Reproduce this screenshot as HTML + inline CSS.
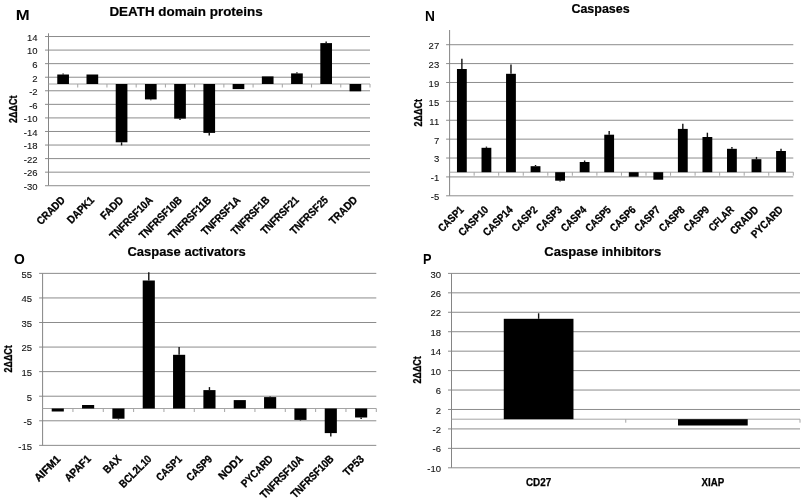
<!DOCTYPE html>
<html><head><meta charset="utf-8"><style>
html,body{margin:0;padding:0;background:#fff;}
svg{display:block;font-family:"Liberation Sans", sans-serif;filter:blur(0.35px);}
</style></head><body>
<svg width="805" height="499" viewBox="0 0 805 499">
<rect width="805" height="499" fill="#fff"/>
<line x1="45.00" y1="36.53" x2="370.00" y2="36.53" stroke="#8c8c8c" stroke-width="1"/>
<line x1="45.00" y1="50.09" x2="370.00" y2="50.09" stroke="#8c8c8c" stroke-width="1"/>
<line x1="45.00" y1="63.65" x2="370.00" y2="63.65" stroke="#8c8c8c" stroke-width="1"/>
<line x1="45.00" y1="77.22" x2="370.00" y2="77.22" stroke="#8c8c8c" stroke-width="1"/>
<line x1="45.00" y1="90.78" x2="370.00" y2="90.78" stroke="#8c8c8c" stroke-width="1"/>
<line x1="45.00" y1="104.35" x2="370.00" y2="104.35" stroke="#8c8c8c" stroke-width="1"/>
<line x1="45.00" y1="117.91" x2="370.00" y2="117.91" stroke="#8c8c8c" stroke-width="1"/>
<line x1="45.00" y1="131.47" x2="370.00" y2="131.47" stroke="#8c8c8c" stroke-width="1"/>
<line x1="45.00" y1="145.04" x2="370.00" y2="145.04" stroke="#8c8c8c" stroke-width="1"/>
<line x1="45.00" y1="158.60" x2="370.00" y2="158.60" stroke="#8c8c8c" stroke-width="1"/>
<line x1="45.00" y1="172.17" x2="370.00" y2="172.17" stroke="#8c8c8c" stroke-width="1"/>
<line x1="45.00" y1="185.73" x2="370.00" y2="185.73" stroke="#8c8c8c" stroke-width="1"/>
<line x1="48.50" y1="33.30" x2="48.50" y2="185.50" stroke="#858585" stroke-width="1"/>
<line x1="48.50" y1="84.00" x2="370.00" y2="84.00" stroke="#a4a4a4" stroke-width="1"/>
<line x1="77.73" y1="84.00" x2="77.73" y2="87.50" stroke="#a4a4a4" stroke-width="1"/>
<line x1="106.95" y1="84.00" x2="106.95" y2="87.50" stroke="#a4a4a4" stroke-width="1"/>
<line x1="136.18" y1="84.00" x2="136.18" y2="87.50" stroke="#a4a4a4" stroke-width="1"/>
<line x1="165.41" y1="84.00" x2="165.41" y2="87.50" stroke="#a4a4a4" stroke-width="1"/>
<line x1="194.64" y1="84.00" x2="194.64" y2="87.50" stroke="#a4a4a4" stroke-width="1"/>
<line x1="223.86" y1="84.00" x2="223.86" y2="87.50" stroke="#a4a4a4" stroke-width="1"/>
<line x1="253.09" y1="84.00" x2="253.09" y2="87.50" stroke="#a4a4a4" stroke-width="1"/>
<line x1="282.32" y1="84.00" x2="282.32" y2="87.50" stroke="#a4a4a4" stroke-width="1"/>
<line x1="311.55" y1="84.00" x2="311.55" y2="87.50" stroke="#a4a4a4" stroke-width="1"/>
<line x1="340.77" y1="84.00" x2="340.77" y2="87.50" stroke="#a4a4a4" stroke-width="1"/>
<line x1="370.00" y1="84.00" x2="370.00" y2="87.50" stroke="#a4a4a4" stroke-width="1"/>
<text x="37.60" y="40.83" font-size="9.5" text-anchor="end" fill="#111" stroke="#111" stroke-width="0.1">14</text>
<text x="37.60" y="54.39" font-size="9.5" text-anchor="end" fill="#111" stroke="#111" stroke-width="0.1">10</text>
<text x="37.60" y="67.95" font-size="9.5" text-anchor="end" fill="#111" stroke="#111" stroke-width="0.1">6</text>
<text x="37.60" y="81.52" font-size="9.5" text-anchor="end" fill="#111" stroke="#111" stroke-width="0.1">2</text>
<text x="37.60" y="95.08" font-size="9.5" text-anchor="end" fill="#111" stroke="#111" stroke-width="0.1">-2</text>
<text x="37.60" y="108.65" font-size="9.5" text-anchor="end" fill="#111" stroke="#111" stroke-width="0.1">-6</text>
<text x="37.60" y="122.21" font-size="9.5" text-anchor="end" fill="#111" stroke="#111" stroke-width="0.1">-10</text>
<text x="37.60" y="135.77" font-size="9.5" text-anchor="end" fill="#111" stroke="#111" stroke-width="0.1">-14</text>
<text x="37.60" y="149.34" font-size="9.5" text-anchor="end" fill="#111" stroke="#111" stroke-width="0.1">-18</text>
<text x="37.60" y="162.90" font-size="9.5" text-anchor="end" fill="#111" stroke="#111" stroke-width="0.1">-22</text>
<text x="37.60" y="176.47" font-size="9.5" text-anchor="end" fill="#111" stroke="#111" stroke-width="0.1">-26</text>
<text x="37.60" y="190.03" font-size="9.5" text-anchor="end" fill="#111" stroke="#111" stroke-width="0.1">-30</text>
<rect x="57.27" y="74.50" width="11.69" height="9.50" fill="#000"/>
<line x1="63.11" y1="74.50" x2="63.11" y2="73.40" stroke="#111" stroke-width="1.4"/>
<rect x="86.50" y="74.50" width="11.69" height="9.50" fill="#000"/>
<rect x="115.72" y="84.00" width="11.69" height="58.30" fill="#000"/>
<line x1="121.57" y1="142.30" x2="121.57" y2="145.40" stroke="#111" stroke-width="1.4"/>
<rect x="144.95" y="84.00" width="11.69" height="15.40" fill="#000"/>
<line x1="150.80" y1="99.40" x2="150.80" y2="100.20" stroke="#111" stroke-width="1.4"/>
<rect x="174.18" y="84.00" width="11.69" height="34.60" fill="#000"/>
<line x1="180.02" y1="118.60" x2="180.02" y2="119.90" stroke="#111" stroke-width="1.4"/>
<rect x="203.40" y="84.00" width="11.69" height="48.90" fill="#000"/>
<line x1="209.25" y1="132.90" x2="209.25" y2="135.60" stroke="#111" stroke-width="1.4"/>
<rect x="232.63" y="84.00" width="11.69" height="5.10" fill="#000"/>
<rect x="261.86" y="76.40" width="11.69" height="7.60" fill="#000"/>
<rect x="291.09" y="73.40" width="11.69" height="10.60" fill="#000"/>
<line x1="296.93" y1="73.40" x2="296.93" y2="72.20" stroke="#111" stroke-width="1.4"/>
<rect x="320.31" y="43.10" width="11.69" height="40.90" fill="#000"/>
<line x1="326.16" y1="43.10" x2="326.16" y2="41.40" stroke="#111" stroke-width="1.4"/>
<rect x="349.54" y="84.00" width="11.69" height="7.30" fill="#000"/>
<text transform="translate(65.71,200.80) rotate(-45)" font-size="11" font-weight="bold" text-anchor="end" textLength="34.90" lengthAdjust="spacingAndGlyphs" stroke="#000" stroke-width="0.3" fill="#000">CRADD</text>
<text transform="translate(94.94,200.80) rotate(-45)" font-size="11" font-weight="bold" text-anchor="end" textLength="33.30" lengthAdjust="spacingAndGlyphs" stroke="#000" stroke-width="0.3" fill="#000">DAPK1</text>
<text transform="translate(124.17,200.80) rotate(-45)" font-size="11" font-weight="bold" text-anchor="end" textLength="27.44" lengthAdjust="spacingAndGlyphs" stroke="#000" stroke-width="0.3" fill="#000">FADD</text>
<text transform="translate(153.40,200.80) rotate(-45)" font-size="11" font-weight="bold" text-anchor="end" textLength="55.79" lengthAdjust="spacingAndGlyphs" stroke="#000" stroke-width="0.3" fill="#000">TNFRSF10A</text>
<text transform="translate(182.62,200.80) rotate(-45)" font-size="11" font-weight="bold" text-anchor="end" textLength="55.26" lengthAdjust="spacingAndGlyphs" stroke="#000" stroke-width="0.3" fill="#000">TNFRSF10B</text>
<text transform="translate(211.85,200.80) rotate(-45)" font-size="11" font-weight="bold" text-anchor="end" textLength="55.26" lengthAdjust="spacingAndGlyphs" stroke="#000" stroke-width="0.3" fill="#000">TNFRSF11B</text>
<text transform="translate(241.08,200.80) rotate(-45)" font-size="11" font-weight="bold" text-anchor="end" textLength="49.81" lengthAdjust="spacingAndGlyphs" stroke="#000" stroke-width="0.3" fill="#000">TNFRSF1A</text>
<text transform="translate(270.30,200.80) rotate(-45)" font-size="11" font-weight="bold" text-anchor="end" textLength="49.28" lengthAdjust="spacingAndGlyphs" stroke="#000" stroke-width="0.3" fill="#000">TNFRSF1B</text>
<text transform="translate(299.53,200.80) rotate(-45)" font-size="11" font-weight="bold" text-anchor="end" textLength="48.64" lengthAdjust="spacingAndGlyphs" stroke="#000" stroke-width="0.3" fill="#000">TNFRSF21</text>
<text transform="translate(328.76,200.80) rotate(-45)" font-size="11" font-weight="bold" text-anchor="end" textLength="48.64" lengthAdjust="spacingAndGlyphs" stroke="#000" stroke-width="0.3" fill="#000">TNFRSF25</text>
<text transform="translate(357.99,200.80) rotate(-45)" font-size="11" font-weight="bold" text-anchor="end" textLength="34.50" lengthAdjust="spacingAndGlyphs" stroke="#000" stroke-width="0.3" fill="#000">TRADD</text>
<text transform="translate(17.40,109.30) rotate(-90)" font-size="10" font-weight="bold" text-anchor="middle" textLength="27.4" lengthAdjust="spacingAndGlyphs" stroke="#000" stroke-width="0.3" fill="#000">2ΔΔCt</text>
<text x="109.40" y="15.60" font-size="12.8" font-weight="bold" textLength="153.30" lengthAdjust="spacingAndGlyphs" stroke="#000" stroke-width="0.2" fill="#000">DEATH domain proteins</text>
<text x="15.80" y="19.80" font-size="14.8" font-weight="bold" textLength="13.90" lengthAdjust="spacingAndGlyphs" fill="#000">M</text>
<line x1="446.10" y1="44.71" x2="793.30" y2="44.71" stroke="#8c8c8c" stroke-width="1"/>
<line x1="446.10" y1="63.59" x2="793.30" y2="63.59" stroke="#8c8c8c" stroke-width="1"/>
<line x1="446.10" y1="82.48" x2="793.30" y2="82.48" stroke="#8c8c8c" stroke-width="1"/>
<line x1="446.10" y1="101.37" x2="793.30" y2="101.37" stroke="#8c8c8c" stroke-width="1"/>
<line x1="446.10" y1="120.26" x2="793.30" y2="120.26" stroke="#8c8c8c" stroke-width="1"/>
<line x1="446.10" y1="139.15" x2="793.30" y2="139.15" stroke="#8c8c8c" stroke-width="1"/>
<line x1="446.10" y1="158.03" x2="793.30" y2="158.03" stroke="#8c8c8c" stroke-width="1"/>
<line x1="446.10" y1="176.92" x2="793.30" y2="176.92" stroke="#8c8c8c" stroke-width="1"/>
<line x1="446.10" y1="195.81" x2="793.30" y2="195.81" stroke="#8c8c8c" stroke-width="1"/>
<line x1="449.60" y1="30.00" x2="449.60" y2="195.70" stroke="#858585" stroke-width="1"/>
<line x1="449.60" y1="172.20" x2="793.30" y2="172.20" stroke="#a4a4a4" stroke-width="1"/>
<line x1="474.15" y1="172.20" x2="474.15" y2="175.70" stroke="#a4a4a4" stroke-width="1"/>
<line x1="498.70" y1="172.20" x2="498.70" y2="175.70" stroke="#a4a4a4" stroke-width="1"/>
<line x1="523.25" y1="172.20" x2="523.25" y2="175.70" stroke="#a4a4a4" stroke-width="1"/>
<line x1="547.80" y1="172.20" x2="547.80" y2="175.70" stroke="#a4a4a4" stroke-width="1"/>
<line x1="572.35" y1="172.20" x2="572.35" y2="175.70" stroke="#a4a4a4" stroke-width="1"/>
<line x1="596.90" y1="172.20" x2="596.90" y2="175.70" stroke="#a4a4a4" stroke-width="1"/>
<line x1="621.45" y1="172.20" x2="621.45" y2="175.70" stroke="#a4a4a4" stroke-width="1"/>
<line x1="646.00" y1="172.20" x2="646.00" y2="175.70" stroke="#a4a4a4" stroke-width="1"/>
<line x1="670.55" y1="172.20" x2="670.55" y2="175.70" stroke="#a4a4a4" stroke-width="1"/>
<line x1="695.10" y1="172.20" x2="695.10" y2="175.70" stroke="#a4a4a4" stroke-width="1"/>
<line x1="719.65" y1="172.20" x2="719.65" y2="175.70" stroke="#a4a4a4" stroke-width="1"/>
<line x1="744.20" y1="172.20" x2="744.20" y2="175.70" stroke="#a4a4a4" stroke-width="1"/>
<line x1="768.75" y1="172.20" x2="768.75" y2="175.70" stroke="#a4a4a4" stroke-width="1"/>
<line x1="793.30" y1="172.20" x2="793.30" y2="175.70" stroke="#a4a4a4" stroke-width="1"/>
<text x="439.20" y="49.11" font-size="9.5" text-anchor="end" fill="#111" stroke="#111" stroke-width="0.1">27</text>
<text x="439.20" y="67.99" font-size="9.5" text-anchor="end" fill="#111" stroke="#111" stroke-width="0.1">23</text>
<text x="439.20" y="86.88" font-size="9.5" text-anchor="end" fill="#111" stroke="#111" stroke-width="0.1">19</text>
<text x="439.20" y="105.77" font-size="9.5" text-anchor="end" fill="#111" stroke="#111" stroke-width="0.1">15</text>
<text x="439.20" y="124.66" font-size="9.5" text-anchor="end" fill="#111" stroke="#111" stroke-width="0.1">11</text>
<text x="439.20" y="143.55" font-size="9.5" text-anchor="end" fill="#111" stroke="#111" stroke-width="0.1">7</text>
<text x="439.20" y="162.43" font-size="9.5" text-anchor="end" fill="#111" stroke="#111" stroke-width="0.1">3</text>
<text x="439.20" y="181.32" font-size="9.5" text-anchor="end" fill="#111" stroke="#111" stroke-width="0.1">-1</text>
<text x="439.20" y="200.21" font-size="9.5" text-anchor="end" fill="#111" stroke="#111" stroke-width="0.1">-5</text>
<rect x="456.96" y="69.00" width="9.82" height="103.20" fill="#000"/>
<line x1="461.88" y1="69.00" x2="461.88" y2="58.70" stroke="#111" stroke-width="1.4"/>
<rect x="481.51" y="147.80" width="9.82" height="24.40" fill="#000"/>
<line x1="486.43" y1="147.80" x2="486.43" y2="146.60" stroke="#111" stroke-width="1.4"/>
<rect x="506.06" y="73.80" width="9.82" height="98.40" fill="#000"/>
<line x1="510.98" y1="73.80" x2="510.98" y2="64.60" stroke="#111" stroke-width="1.4"/>
<rect x="530.62" y="166.20" width="9.82" height="6.00" fill="#000"/>
<line x1="535.52" y1="166.20" x2="535.52" y2="165.00" stroke="#111" stroke-width="1.4"/>
<rect x="555.17" y="172.20" width="9.82" height="8.50" fill="#000"/>
<line x1="560.08" y1="180.70" x2="560.08" y2="181.50" stroke="#111" stroke-width="1.4"/>
<rect x="579.72" y="162.00" width="9.82" height="10.20" fill="#000"/>
<line x1="584.62" y1="162.00" x2="584.62" y2="160.50" stroke="#111" stroke-width="1.4"/>
<rect x="604.26" y="134.70" width="9.82" height="37.50" fill="#000"/>
<line x1="609.17" y1="134.70" x2="609.17" y2="130.90" stroke="#111" stroke-width="1.4"/>
<rect x="628.81" y="172.20" width="9.82" height="4.50" fill="#000"/>
<rect x="653.37" y="172.20" width="9.82" height="7.50" fill="#000"/>
<rect x="677.91" y="128.90" width="9.82" height="43.30" fill="#000"/>
<line x1="682.82" y1="128.90" x2="682.82" y2="123.80" stroke="#111" stroke-width="1.4"/>
<rect x="702.47" y="137.00" width="9.82" height="35.20" fill="#000"/>
<line x1="707.38" y1="137.00" x2="707.38" y2="132.70" stroke="#111" stroke-width="1.4"/>
<rect x="727.01" y="148.80" width="9.82" height="23.40" fill="#000"/>
<line x1="731.92" y1="148.80" x2="731.92" y2="147.00" stroke="#111" stroke-width="1.4"/>
<rect x="751.56" y="159.20" width="9.82" height="13.00" fill="#000"/>
<line x1="756.47" y1="159.20" x2="756.47" y2="156.90" stroke="#111" stroke-width="1.4"/>
<rect x="776.11" y="151.00" width="9.82" height="21.20" fill="#000"/>
<line x1="781.02" y1="151.00" x2="781.02" y2="148.80" stroke="#111" stroke-width="1.4"/>
<text transform="translate(464.48,210.50) rotate(-45)" font-size="11" font-weight="bold" text-anchor="end" textLength="31.23" lengthAdjust="spacingAndGlyphs" stroke="#000" stroke-width="0.3" fill="#000">CASP1</text>
<text transform="translate(489.03,210.50) rotate(-45)" font-size="11" font-weight="bold" text-anchor="end" textLength="37.22" lengthAdjust="spacingAndGlyphs" stroke="#000" stroke-width="0.3" fill="#000">CASP10</text>
<text transform="translate(513.58,210.50) rotate(-45)" font-size="11" font-weight="bold" text-anchor="end" textLength="37.22" lengthAdjust="spacingAndGlyphs" stroke="#000" stroke-width="0.3" fill="#000">CASP14</text>
<text transform="translate(538.12,210.50) rotate(-45)" font-size="11" font-weight="bold" text-anchor="end" textLength="31.23" lengthAdjust="spacingAndGlyphs" stroke="#000" stroke-width="0.3" fill="#000">CASP2</text>
<text transform="translate(562.68,210.50) rotate(-45)" font-size="11" font-weight="bold" text-anchor="end" textLength="31.23" lengthAdjust="spacingAndGlyphs" stroke="#000" stroke-width="0.3" fill="#000">CASP3</text>
<text transform="translate(587.23,210.50) rotate(-45)" font-size="11" font-weight="bold" text-anchor="end" textLength="31.23" lengthAdjust="spacingAndGlyphs" stroke="#000" stroke-width="0.3" fill="#000">CASP4</text>
<text transform="translate(611.77,210.50) rotate(-45)" font-size="11" font-weight="bold" text-anchor="end" textLength="31.23" lengthAdjust="spacingAndGlyphs" stroke="#000" stroke-width="0.3" fill="#000">CASP5</text>
<text transform="translate(636.32,210.50) rotate(-45)" font-size="11" font-weight="bold" text-anchor="end" textLength="31.23" lengthAdjust="spacingAndGlyphs" stroke="#000" stroke-width="0.3" fill="#000">CASP6</text>
<text transform="translate(660.88,210.50) rotate(-45)" font-size="11" font-weight="bold" text-anchor="end" textLength="31.23" lengthAdjust="spacingAndGlyphs" stroke="#000" stroke-width="0.3" fill="#000">CASP7</text>
<text transform="translate(685.42,210.50) rotate(-45)" font-size="11" font-weight="bold" text-anchor="end" textLength="31.23" lengthAdjust="spacingAndGlyphs" stroke="#000" stroke-width="0.3" fill="#000">CASP8</text>
<text transform="translate(709.98,210.50) rotate(-45)" font-size="11" font-weight="bold" text-anchor="end" textLength="31.23" lengthAdjust="spacingAndGlyphs" stroke="#000" stroke-width="0.3" fill="#000">CASP9</text>
<text transform="translate(734.52,210.50) rotate(-45)" font-size="11" font-weight="bold" text-anchor="end" textLength="30.44" lengthAdjust="spacingAndGlyphs" stroke="#000" stroke-width="0.3" fill="#000">CFLAR</text>
<text transform="translate(759.07,210.50) rotate(-45)" font-size="11" font-weight="bold" text-anchor="end" textLength="34.90" lengthAdjust="spacingAndGlyphs" stroke="#000" stroke-width="0.3" fill="#000">CRADD</text>
<text transform="translate(783.62,210.50) rotate(-45)" font-size="11" font-weight="bold" text-anchor="end" textLength="39.88" lengthAdjust="spacingAndGlyphs" stroke="#000" stroke-width="0.3" fill="#000">PYCARD</text>
<text transform="translate(421.80,112.75) rotate(-90)" font-size="10" font-weight="bold" text-anchor="middle" textLength="27.4" lengthAdjust="spacingAndGlyphs" stroke="#000" stroke-width="0.3" fill="#000">2ΔΔCt</text>
<text x="571.40" y="13.00" font-size="12.8" font-weight="bold" textLength="58.30" lengthAdjust="spacingAndGlyphs" stroke="#000" stroke-width="0.2" fill="#000">Caspases</text>
<text x="424.90" y="21.40" font-size="14.8" font-weight="bold" textLength="9.90" lengthAdjust="spacingAndGlyphs" fill="#000">N</text>
<line x1="39.10" y1="273.37" x2="376.30" y2="273.37" stroke="#8c8c8c" stroke-width="1"/>
<line x1="39.10" y1="297.94" x2="376.30" y2="297.94" stroke="#8c8c8c" stroke-width="1"/>
<line x1="39.10" y1="322.50" x2="376.30" y2="322.50" stroke="#8c8c8c" stroke-width="1"/>
<line x1="39.10" y1="347.07" x2="376.30" y2="347.07" stroke="#8c8c8c" stroke-width="1"/>
<line x1="39.10" y1="371.64" x2="376.30" y2="371.64" stroke="#8c8c8c" stroke-width="1"/>
<line x1="39.10" y1="396.21" x2="376.30" y2="396.21" stroke="#8c8c8c" stroke-width="1"/>
<line x1="39.10" y1="420.79" x2="376.30" y2="420.79" stroke="#8c8c8c" stroke-width="1"/>
<line x1="39.10" y1="445.36" x2="376.30" y2="445.36" stroke="#8c8c8c" stroke-width="1"/>
<line x1="42.60" y1="273.40" x2="42.60" y2="445.40" stroke="#858585" stroke-width="1"/>
<line x1="42.60" y1="408.50" x2="376.30" y2="408.50" stroke="#a4a4a4" stroke-width="1"/>
<line x1="72.94" y1="408.50" x2="72.94" y2="412.00" stroke="#a4a4a4" stroke-width="1"/>
<line x1="103.27" y1="408.50" x2="103.27" y2="412.00" stroke="#a4a4a4" stroke-width="1"/>
<line x1="133.61" y1="408.50" x2="133.61" y2="412.00" stroke="#a4a4a4" stroke-width="1"/>
<line x1="163.95" y1="408.50" x2="163.95" y2="412.00" stroke="#a4a4a4" stroke-width="1"/>
<line x1="194.28" y1="408.50" x2="194.28" y2="412.00" stroke="#a4a4a4" stroke-width="1"/>
<line x1="224.62" y1="408.50" x2="224.62" y2="412.00" stroke="#a4a4a4" stroke-width="1"/>
<line x1="254.95" y1="408.50" x2="254.95" y2="412.00" stroke="#a4a4a4" stroke-width="1"/>
<line x1="285.29" y1="408.50" x2="285.29" y2="412.00" stroke="#a4a4a4" stroke-width="1"/>
<line x1="315.63" y1="408.50" x2="315.63" y2="412.00" stroke="#a4a4a4" stroke-width="1"/>
<line x1="345.96" y1="408.50" x2="345.96" y2="412.00" stroke="#a4a4a4" stroke-width="1"/>
<line x1="376.30" y1="408.50" x2="376.30" y2="412.00" stroke="#a4a4a4" stroke-width="1"/>
<text x="32.00" y="277.67" font-size="9.5" text-anchor="end" fill="#111" stroke="#111" stroke-width="0.1">55</text>
<text x="32.00" y="302.24" font-size="9.5" text-anchor="end" fill="#111" stroke="#111" stroke-width="0.1">45</text>
<text x="32.00" y="326.81" font-size="9.5" text-anchor="end" fill="#111" stroke="#111" stroke-width="0.1">35</text>
<text x="32.00" y="351.38" font-size="9.5" text-anchor="end" fill="#111" stroke="#111" stroke-width="0.1">25</text>
<text x="32.00" y="375.94" font-size="9.5" text-anchor="end" fill="#111" stroke="#111" stroke-width="0.1">15</text>
<text x="32.00" y="400.51" font-size="9.5" text-anchor="end" fill="#111" stroke="#111" stroke-width="0.1">5</text>
<text x="32.00" y="425.09" font-size="9.5" text-anchor="end" fill="#111" stroke="#111" stroke-width="0.1">-5</text>
<text x="32.00" y="449.66" font-size="9.5" text-anchor="end" fill="#111" stroke="#111" stroke-width="0.1">-15</text>
<rect x="51.70" y="408.50" width="12.13" height="3.00" fill="#000"/>
<rect x="82.04" y="405.00" width="12.13" height="3.50" fill="#000"/>
<rect x="112.37" y="408.50" width="12.13" height="10.20" fill="#000"/>
<line x1="118.44" y1="418.70" x2="118.44" y2="419.50" stroke="#111" stroke-width="1.4"/>
<rect x="142.71" y="280.50" width="12.13" height="128.00" fill="#000"/>
<line x1="148.78" y1="280.50" x2="148.78" y2="272.30" stroke="#111" stroke-width="1.4"/>
<rect x="173.05" y="354.80" width="12.13" height="53.70" fill="#000"/>
<line x1="179.11" y1="354.80" x2="179.11" y2="346.90" stroke="#111" stroke-width="1.4"/>
<rect x="203.38" y="390.10" width="12.13" height="18.40" fill="#000"/>
<line x1="209.45" y1="390.10" x2="209.45" y2="387.10" stroke="#111" stroke-width="1.4"/>
<rect x="233.72" y="400.10" width="12.13" height="8.40" fill="#000"/>
<rect x="264.06" y="397.10" width="12.13" height="11.40" fill="#000"/>
<line x1="270.12" y1="397.10" x2="270.12" y2="396.50" stroke="#111" stroke-width="1.4"/>
<rect x="294.39" y="408.50" width="12.13" height="11.40" fill="#000"/>
<line x1="300.46" y1="419.90" x2="300.46" y2="420.50" stroke="#111" stroke-width="1.4"/>
<rect x="324.73" y="408.50" width="12.13" height="24.60" fill="#000"/>
<line x1="330.80" y1="433.10" x2="330.80" y2="436.50" stroke="#111" stroke-width="1.4"/>
<rect x="355.06" y="408.50" width="12.13" height="9.00" fill="#000"/>
<line x1="361.13" y1="417.50" x2="361.13" y2="419.00" stroke="#111" stroke-width="1.4"/>
<text transform="translate(61.27,459.70) rotate(-45)" font-size="11" font-weight="bold" text-anchor="end" textLength="32.01" lengthAdjust="spacingAndGlyphs" stroke="#000" stroke-width="0.3" fill="#000">AIFM1</text>
<text transform="translate(91.60,459.70) rotate(-45)" font-size="11" font-weight="bold" text-anchor="end" textLength="31.98" lengthAdjust="spacingAndGlyphs" stroke="#000" stroke-width="0.3" fill="#000">APAF1</text>
<text transform="translate(121.94,459.70) rotate(-45)" font-size="11" font-weight="bold" text-anchor="end" textLength="20.27" lengthAdjust="spacingAndGlyphs" stroke="#000" stroke-width="0.3" fill="#000">BAX</text>
<text transform="translate(152.28,459.70) rotate(-45)" font-size="11" font-weight="bold" text-anchor="end" textLength="40.79" lengthAdjust="spacingAndGlyphs" stroke="#000" stroke-width="0.3" fill="#000">BCL2L10</text>
<text transform="translate(182.61,459.70) rotate(-45)" font-size="11" font-weight="bold" text-anchor="end" textLength="31.23" lengthAdjust="spacingAndGlyphs" stroke="#000" stroke-width="0.3" fill="#000">CASP1</text>
<text transform="translate(212.95,459.70) rotate(-45)" font-size="11" font-weight="bold" text-anchor="end" textLength="31.23" lengthAdjust="spacingAndGlyphs" stroke="#000" stroke-width="0.3" fill="#000">CASP9</text>
<text transform="translate(243.29,459.70) rotate(-45)" font-size="11" font-weight="bold" text-anchor="end" textLength="29.17" lengthAdjust="spacingAndGlyphs" stroke="#000" stroke-width="0.3" fill="#000">NOD1</text>
<text transform="translate(273.62,459.70) rotate(-45)" font-size="11" font-weight="bold" text-anchor="end" textLength="39.88" lengthAdjust="spacingAndGlyphs" stroke="#000" stroke-width="0.3" fill="#000">PYCARD</text>
<text transform="translate(303.96,459.70) rotate(-45)" font-size="11" font-weight="bold" text-anchor="end" textLength="55.79" lengthAdjust="spacingAndGlyphs" stroke="#000" stroke-width="0.3" fill="#000">TNFRSF10A</text>
<text transform="translate(334.30,459.70) rotate(-45)" font-size="11" font-weight="bold" text-anchor="end" textLength="55.26" lengthAdjust="spacingAndGlyphs" stroke="#000" stroke-width="0.3" fill="#000">TNFRSF10B</text>
<text transform="translate(364.63,459.70) rotate(-45)" font-size="11" font-weight="bold" text-anchor="end" textLength="24.08" lengthAdjust="spacingAndGlyphs" stroke="#000" stroke-width="0.3" fill="#000">TP53</text>
<text transform="translate(11.80,358.85) rotate(-90)" font-size="10" font-weight="bold" text-anchor="middle" textLength="27.4" lengthAdjust="spacingAndGlyphs" stroke="#000" stroke-width="0.3" fill="#000">2ΔΔCt</text>
<text x="127.40" y="255.90" font-size="12.8" font-weight="bold" textLength="118.40" lengthAdjust="spacingAndGlyphs" stroke="#000" stroke-width="0.2" fill="#000">Caspase activators</text>
<text x="14.00" y="264.00" font-size="14.8" font-weight="bold" textLength="10.80" lengthAdjust="spacingAndGlyphs" fill="#000">O</text>
<line x1="448.00" y1="273.40" x2="800.00" y2="273.40" stroke="#8c8c8c" stroke-width="1"/>
<line x1="448.00" y1="292.84" x2="800.00" y2="292.84" stroke="#8c8c8c" stroke-width="1"/>
<line x1="448.00" y1="312.28" x2="800.00" y2="312.28" stroke="#8c8c8c" stroke-width="1"/>
<line x1="448.00" y1="331.72" x2="800.00" y2="331.72" stroke="#8c8c8c" stroke-width="1"/>
<line x1="448.00" y1="351.16" x2="800.00" y2="351.16" stroke="#8c8c8c" stroke-width="1"/>
<line x1="448.00" y1="370.60" x2="800.00" y2="370.60" stroke="#8c8c8c" stroke-width="1"/>
<line x1="448.00" y1="390.04" x2="800.00" y2="390.04" stroke="#8c8c8c" stroke-width="1"/>
<line x1="448.00" y1="409.48" x2="800.00" y2="409.48" stroke="#8c8c8c" stroke-width="1"/>
<line x1="448.00" y1="428.92" x2="800.00" y2="428.92" stroke="#8c8c8c" stroke-width="1"/>
<line x1="448.00" y1="448.36" x2="800.00" y2="448.36" stroke="#8c8c8c" stroke-width="1"/>
<line x1="448.00" y1="467.80" x2="800.00" y2="467.80" stroke="#8c8c8c" stroke-width="1"/>
<line x1="451.50" y1="273.40" x2="451.50" y2="467.80" stroke="#858585" stroke-width="1"/>
<line x1="451.50" y1="419.20" x2="800.00" y2="419.20" stroke="#a4a4a4" stroke-width="1"/>
<line x1="625.75" y1="419.20" x2="625.75" y2="422.70" stroke="#a4a4a4" stroke-width="1"/>
<line x1="800.00" y1="419.20" x2="800.00" y2="422.70" stroke="#a4a4a4" stroke-width="1"/>
<text x="441.00" y="277.50" font-size="9.5" text-anchor="end" fill="#111" stroke="#111" stroke-width="0.1">30</text>
<text x="441.00" y="296.94" font-size="9.5" text-anchor="end" fill="#111" stroke="#111" stroke-width="0.1">26</text>
<text x="441.00" y="316.38" font-size="9.5" text-anchor="end" fill="#111" stroke="#111" stroke-width="0.1">22</text>
<text x="441.00" y="335.82" font-size="9.5" text-anchor="end" fill="#111" stroke="#111" stroke-width="0.1">18</text>
<text x="441.00" y="355.26" font-size="9.5" text-anchor="end" fill="#111" stroke="#111" stroke-width="0.1">14</text>
<text x="441.00" y="374.70" font-size="9.5" text-anchor="end" fill="#111" stroke="#111" stroke-width="0.1">10</text>
<text x="441.00" y="394.14" font-size="9.5" text-anchor="end" fill="#111" stroke="#111" stroke-width="0.1">6</text>
<text x="441.00" y="413.58" font-size="9.5" text-anchor="end" fill="#111" stroke="#111" stroke-width="0.1">2</text>
<text x="441.00" y="433.02" font-size="9.5" text-anchor="end" fill="#111" stroke="#111" stroke-width="0.1">-2</text>
<text x="441.00" y="452.46" font-size="9.5" text-anchor="end" fill="#111" stroke="#111" stroke-width="0.1">-6</text>
<text x="441.00" y="471.90" font-size="9.5" text-anchor="end" fill="#111" stroke="#111" stroke-width="0.1">-10</text>
<rect x="503.77" y="318.80" width="69.70" height="100.40" fill="#000"/>
<line x1="538.62" y1="318.80" x2="538.62" y2="313.30" stroke="#111" stroke-width="1.4"/>
<rect x="678.02" y="419.20" width="69.70" height="6.30" fill="#000"/>
<text x="538.62" y="486.00" font-size="10.2" font-weight="bold" text-anchor="middle" textLength="25.21" lengthAdjust="spacingAndGlyphs" stroke="#000" stroke-width="0.25" fill="#000">CD27</text>
<text x="712.88" y="486.00" font-size="10.2" font-weight="bold" text-anchor="middle" textLength="22.69" lengthAdjust="spacingAndGlyphs" stroke="#000" stroke-width="0.25" fill="#000">XIAP</text>
<text transform="translate(420.70,369.85) rotate(-90)" font-size="10" font-weight="bold" text-anchor="middle" textLength="27.4" lengthAdjust="spacingAndGlyphs" stroke="#000" stroke-width="0.3" fill="#000">2ΔΔCt</text>
<text x="544.30" y="255.90" font-size="12.8" font-weight="bold" textLength="116.90" lengthAdjust="spacingAndGlyphs" stroke="#000" stroke-width="0.2" fill="#000">Caspase inhibitors</text>
<text x="423.00" y="264.00" font-size="14.8" font-weight="bold" textLength="8.50" lengthAdjust="spacingAndGlyphs" fill="#000">P</text>
</svg>
</body></html>
